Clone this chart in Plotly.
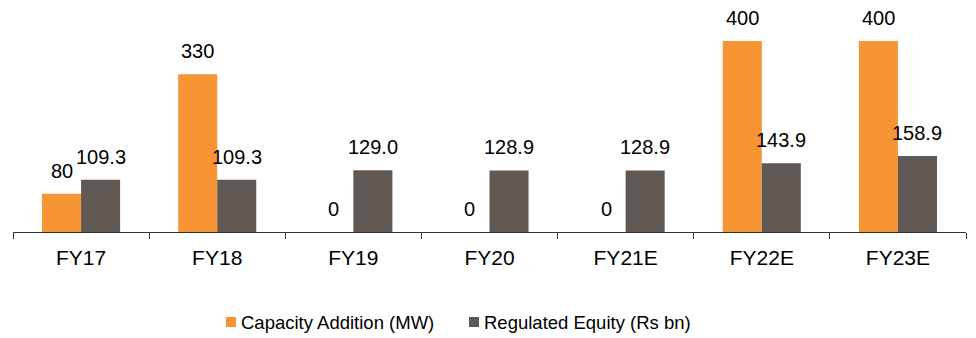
import plotly.graph_objects as go

# Fiscal years on the category axis
years = ["FY17", "FY18", "FY19", "FY20", "FY21E", "FY22E", "FY23E"]

# Series values
capacity_mw = [80, 330, 0, 0, 0, 400, 400]
equity_rs_bn = [109.3, 109.3, 129.0, 128.9, 128.9, 143.9, 158.9]
series_names = ["Capacity Addition (MW)", "Regulated Equity (Rs bn)"]

capacity_labels = [f"{v:.0f}" for v in capacity_mw]
equity_labels = [f"{v:.1f}" for v in equity_rs_bn]

ORANGE = "#F79433"
GREY = "#605853"
FONT = "Liberation Sans, Arial, sans-serif"
BARGAP = 0.4265

W, H = 976, 338
M = dict(l=13, r=10, t=17, b=106)
PW = W - M["l"] - M["r"]
PH = H - M["t"] - M["b"]


def px_x(p):
    return (p - M["l"]) / PW


def px_y(p):
    return (H - M["b"] - p) / PH


fig = go.Figure()
fig.add_trace(go.Bar(x=years, y=capacity_mw, name=series_names[0],
                     marker=dict(color=ORANGE, line=dict(width=0))))
fig.add_trace(go.Bar(x=years, y=equity_rs_bn, name=series_names[1],
                     marker=dict(color=GREY, line=dict(width=0))))

# Value labels above each bar, placed at the bar's own data coordinates
half = (1 - BARGAP) / 4
for i, (v, t) in enumerate(zip(capacity_mw, capacity_labels)):
    fig.add_annotation(x=i - half, y=v, text=t, showarrow=False,
                       yanchor="middle", yshift=23,
                       font=dict(family=FONT, size=20, color="#000"))
for i, (v, t) in enumerate(zip(equity_rs_bn, equity_labels)):
    fig.add_annotation(x=i + half, y=v, text=t, showarrow=False,
                       yanchor="middle", yshift=23,
                       font=dict(family=FONT, size=20, color="#000"))

# Legend: coloured squares with their series names below the axis
for sq_left, color, name in [(226, ORANGE, series_names[0]), (469, GREY, series_names[1])]:
    fig.add_shape(type="rect", xref="paper", yref="paper",
                  x0=px_x(sq_left), x1=px_x(sq_left + 10),
                  y0=px_y(327), y1=px_y(317),
                  fillcolor=color, line=dict(width=0))
    fig.add_annotation(xref="paper", yref="paper", x=px_x(sq_left + 13), y=px_y(322),
                       xanchor="left", yanchor="middle", text=name, showarrow=False,
                       font=dict(family=FONT, size=18.5, color="#000"))

fig.update_layout(
    width=W, height=H,
    margin=dict(**M, autoexpand=False),
    paper_bgcolor="white", plot_bgcolor="white",
    barmode="group", bargap=BARGAP, bargroupgap=0,
    font=dict(family=FONT, color="#000"),
    showlegend=False,
    xaxis=dict(type="category", range=[-0.5, 6.5], showline=True, linecolor="#333",
               linewidth=1, ticks="outside", tickson="boundaries", ticklen=6,
               tickcolor="#333", ticklabelstandoff=7,
               tickfont=dict(family=FONT, size=21, color="#000"),
               showgrid=False),
    yaxis=dict(range=[0, 450], visible=False, showgrid=False, zeroline=False),
)

fig.write_html("out.html")
